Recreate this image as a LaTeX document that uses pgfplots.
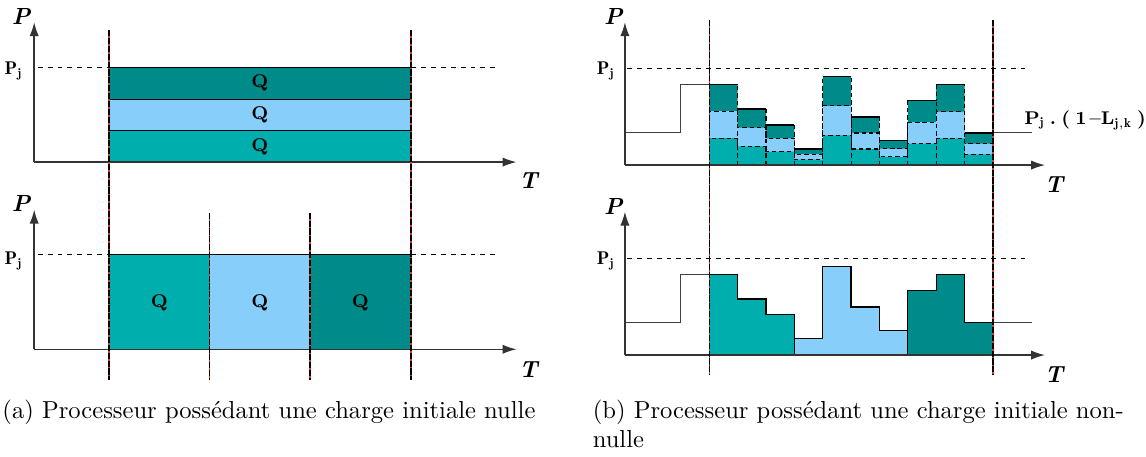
\documentclass[border=0pt]{standalone}
\usepackage{fontspec}
\usepackage{pgfplots}
\pgfplotsset{compat=1.18}
\usetikzlibrary{arrows.meta}

\definecolor{tealA}{RGB}{0,174,174}
\definecolor{tealD}{RGB}{0,139,139}
\definecolor{skyL}{RGB}{135,206,250}
\definecolor{redL}{RGB}{220,60,40}

\pgfplotsset{
  axline/.style={black!80, line width=0.6pt, -{Latex[length=5.7pt,width=3.8pt]}},
  pjline/.style={black, line width=0.45pt, dash pattern=on 2pt off 2pt},
  box/.style={draw=black, line width=0.5pt},
  dbox/.style={draw=black, line width=0.45pt, dash pattern=on 1.8pt off 1.2pt},
  vred/.style={redL, line width=0.6pt},
  vblk/.style={black, line width=0.6pt, dash pattern=on 2.5pt off 0.7pt},
  step/.style={black!75, line width=0.5pt},
}
\tikzset{
  axlab/.style={font=\fontsize{9.5}{11}\selectfont\bfseries\itshape},
  pjlab/.style={font=\fontsize{7.5}{9}\selectfont, anchor=east, inner sep=0pt},
  qlab/.style={font=\fontsize{7.5}{9}\selectfont\bfseries},
}

\begin{document}
\begin{tikzpicture}
\begin{axis}[
    scale only axis,
    width=464.9pt, height=184.6pt,
    xmin=0, xmax=1146, ymin=0, ymax=455,
    hide axis, clip=false,
    unbounded coords=jump,
  ]
  % frame of the page
  \addplot[draw=none] coordinates {(0,0) (1146,455)};

  % ---------- (a) top ----------
  \addplot[pjline] coordinates {(38,390.7) (500,390.7)};
  \addplot[fill=tealA, box] coordinates {(109.3,295.7) (412,295.7) (412,327) (109.3,327)} --cycle;
  \addplot[fill=skyL, box] coordinates {(109.3,327) (412,327) (412,358.7) (109.3,358.7)} --cycle;
  \addplot[fill=tealD, box] coordinates {(109.3,358.7) (412,358.7) (412,390.7) (109.3,390.7)} --cycle;
  \addplot[axline] coordinates {(34.3,295.7) (34.3,436)};
  \addplot[axline] coordinates {(34.3,295.7) (518,295.7)};

  % ---------- (a) bottom ----------
  \addplot[pjline] coordinates {(38,203) (500,203)};
  \addplot[fill=tealA, box] coordinates {(109.3,108) (210.3,108) (210.3,203) (109.3,203)} --cycle;
  \addplot[fill=skyL, box] coordinates {(210.3,108) (311,108) (311,203) (210.3,203)} --cycle;
  \addplot[fill=tealD, box] coordinates {(311,108) (412,108) (412,203) (311,203)} --cycle;
  \addplot[axline] coordinates {(34.3,108) (34.3,248)};
  \addplot[axline] coordinates {(34.3,108) (518,108)};

  % separators (a)
  \addplot[vred] coordinates {(109.3,428) (109.3,77) (412,nan) (412,428) (412,77)
                              (210.3,nan) (210.3,245) (210.3,77) (311,nan) (311,245) (311,77)};
  \addplot[vblk] coordinates {(109.3,428) (109.3,77) (412,nan) (412,428) (412,77)
                              (210.3,nan) (210.3,245) (210.3,77) (311,nan) (311,245) (311,77)};

  % ---------- (b) top ----------
  \addplot[pjline] coordinates {(629,389.7) (1033,389.7)};
  \addplot[step] coordinates {(626.7,325) (682.7,325) (682.7,373.7) (711.3,373.7)};
  \addplot[step] coordinates {(995.7,325) (1035,325)};
  \addplot[const plot, fill=tealD, dbox] coordinates {
    (711.3,292.7) (711.3,373.7) (739.7,349.0) (768.2,333.0) (796.6,309.0) (825.1,381.7)
    (853.5,341.0) (881.9,317.3) (910.4,357.3) (938.8,373.3) (967.3,325.0) (995.7,325.0) (995.7,292.7)} --cycle;
  \addplot[const plot, fill=skyL, dbox] coordinates {
    (711.3,292.7) (711.3,346.7) (739.7,330.2) (768.2,319.6) (796.6,303.6) (825.1,352.0)
    (853.5,324.9) (881.9,309.1) (910.4,335.8) (938.8,346.4) (967.3,314.2) (995.7,314.2) (995.7,292.7)} --cycle;
  \addplot[const plot, fill=tealA, dbox] coordinates {
    (711.3,292.7) (711.3,319.7) (739.7,311.5) (768.2,306.1) (796.6,298.1) (825.1,322.4)
    (853.5,308.8) (881.9,300.9) (910.4,314.2) (938.8,319.6) (967.3,303.5) (995.7,303.5) (995.7,292.7)} --cycle;
  \addplot[dbox] coordinates {
    (739.7,292.7) (739.7,349.0) (768.2,nan) (768.2,292.7) (768.2,333.0) (796.6,nan)
    (796.6,292.7) (796.6,309.0) (825.1,nan) (825.1,292.7) (825.1,309.0) (853.5,nan)
    (853.5,292.7) (853.5,341.0) (881.9,nan) (881.9,292.7) (881.9,317.3) (910.4,nan)
    (910.4,292.7) (910.4,317.3) (938.8,nan) (938.8,292.7) (938.8,357.3) (967.3,nan)
    (967.3,292.7) (967.3,325.0)};
  \addplot[black, line width=0.6pt] coordinates {
    (711.3,373.7) (739.7,373.7) (739.7,nan) (739.7,349.0) (768.2,349.0) (768.2,nan)
    (768.2,333.0) (796.6,333.0) (796.6,nan) (796.6,309.0) (825.1,309.0) (825.1,nan)
    (825.1,381.7) (853.5,381.7) (853.5,nan) (853.5,341.0) (881.9,341.0) (881.9,nan)
    (881.9,317.3) (910.4,317.3) (910.4,nan) (910.4,357.3) (938.8,357.3) (938.8,nan)
    (938.8,373.3) (967.3,373.3) (967.3,nan) (967.3,325.0) (995.7,325.0)};
  \addplot[axline] coordinates {(626.7,292.7) (626.7,436)};
  \addplot[axline] coordinates {(626.7,292.7) (1048,292.7)};

  % ---------- (b) bottom ----------
  \addplot[pjline] coordinates {(629,199.2) (1033,199.2)};
  \addplot[step] coordinates {(626.7,134.5) (682.7,134.5) (682.7,183.2) (711.3,183.2)};
  \addplot[step] coordinates {(995.7,134.5) (1035,134.5)};
  \addplot[fill=tealA, box] coordinates {(711.3,102.2) (711.3,183.2) (739.7,183.2) (739.7,158.5)
    (768.2,158.5) (768.2,142.5) (796.6,142.5) (796.6,102.2)} --cycle;
  \addplot[fill=skyL, box] coordinates {(796.6,102.2) (796.6,118.5) (825.1,118.5) (825.1,191.2)
    (853.5,191.2) (853.5,150.5) (881.9,150.5) (881.9,126.8) (910.4,126.8) (910.4,102.2)} --cycle;
  \addplot[fill=tealD, box] coordinates {(910.4,102.2) (910.4,166.8) (938.8,166.8) (938.8,182.8)
    (967.3,182.8) (967.3,134.5) (995.7,134.5) (995.7,102.2)} --cycle;
  \addplot[axline] coordinates {(626.7,102.2) (626.7,246)};
  \addplot[axline] coordinates {(626.7,102.2) (1048,102.2)};

  % separators (b)
  \addplot[vred] coordinates {(711.3,438) (711.3,83) (995.7,nan) (995.7,438) (995.7,83)};
  \addplot[vblk] coordinates {(711.3,438) (711.3,83) (995.7,nan) (995.7,438) (995.7,83)};

  % ---------- labels ----------
  \node[axlab] at (axis cs:21,442) {P};
  \node[axlab] at (axis cs:21,254) {P};
  \node[axlab] at (axis cs:615,442) {P};
  \node[axlab] at (axis cs:615,251.5) {P};
  \node[axlab] at (axis cs:530,277) {T};
  \node[axlab] at (axis cs:530,88) {T};
  \node[axlab] at (axis cs:1057,273) {T};
  \node[axlab] at (axis cs:1057,83) {T};
  \node[pjlab] at (axis cs:23,387) {$\mathbf{P_j}$};
  \node[pjlab] at (axis cs:23,197) {$\mathbf{P_j}$};
  \node[pjlab] at (axis cs:617,387) {$\mathbf{P_j}$};
  \node[pjlab] at (axis cs:617,197) {$\mathbf{P_j}$};
  \node[qlab] at (axis cs:260.6,374.7) {Q};
  \node[qlab] at (axis cs:260.6,342.9) {Q};
  \node[qlab] at (axis cs:260.6,311.4) {Q};
  \node[qlab] at (axis cs:159.8,155) {Q};
  \node[qlab] at (axis cs:260.6,155) {Q};
  \node[qlab] at (axis cs:361.5,155) {Q};
  \node[font=\fontsize{7.5}{9}\selectfont\bfseries, anchor=west, inner sep=0pt] at (axis cs:1026.7,338)
    {P$_{\mathbf{j}}$\;.\;(\;1\,–L$_{\mathbf{j,k}}$\;)};

  % ---------- captions ----------
  \node[anchor=base west, inner sep=0pt] at (axis cs:2,38.5) {(a) Processeur possédant une charge initiale nulle};
  \node[anchor=base west, inner sep=0pt] at (axis cs:594,38.5) {(b) Processeur possédant une charge initiale non-};
  \node[anchor=base west, inner sep=0pt] at (axis cs:594,9.5) {nulle};
\end{axis}
\end{tikzpicture}
\end{document}
